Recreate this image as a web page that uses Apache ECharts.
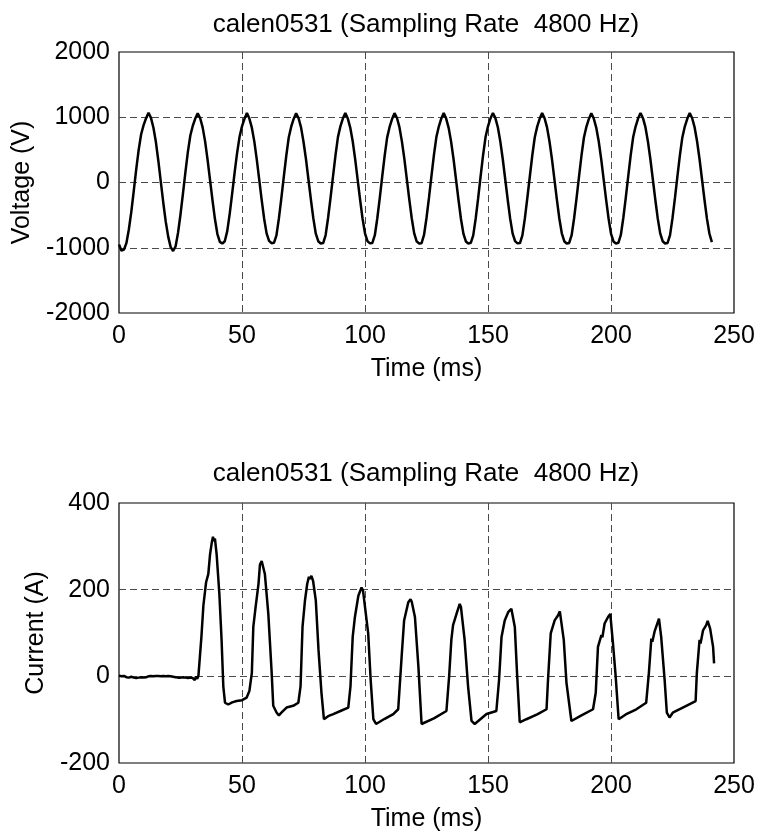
<!DOCTYPE html>
<html>
<head>
<meta charset="utf-8">
<script src="https://cdn.jsdelivr.net/npm/echarts@6/dist/echarts.min.js"></script>
<style>
html,body{margin:0;padding:0;background:#fff;}
#chart{width:760px;height:835px;}
</style>
</head>
<body>
<div id="chart"></div>
<script>
const plotTitle = 'calen0531 (Sampling Rate  4800 Hz)';
const xTicks = [0, 50, 100, 150, 200, 250];
const voltageTicks = [-2000, -1000, 0, 1000, 2000];
const currentTicks = [-200, 0, 200, 400];

const voltageTime = [
  0,1,2,3,4,5,6,7,8,9,
  10,11,12,13,14,15,16,17,18,19,
  20,21,22,23,24,25,26,27,28,29,
  30,31,32,33,34,35,36,37,38,39,
  40,41,42,43,44,45,46,47,48,49,
  50,51,52,53,54,55,56,57,58,59,
  60,61,62,63,64,65,66,67,68,69,
  70,71,72,73,74,75,76,77,78,79,
  80,81,82,83,84,85,86,87,88,89,
  90,91,92,93,94,95,96,97,98,99,
  100,101,102,103,104,105,106,107,108,109,
  110,111,112,113,114,115,116,117,118,119,
  120,121,122,123,124,125,126,127,128,129,
  130,131,132,133,134,135,136,137,138,139,
  140,141,142,143,144,145,146,147,148,149,
  150,151,152,153,154,155,156,157,158,159,
  160,161,162,163,164,165,166,167,168,169,
  170,171,172,173,174,175,176,177,178,179,
  180,181,182,183,184,185,186,187,188,189,
  190,191,192,193,194,195,196,197,198,199,
  200,201,202,203,204,205,206,207,208,209,
  210,211,212,213,214,215,216,217,218,219,
  220,221,222,223,224,225,226,227,228,229,
  230,231,232,233,234,235,236,237,238,239,
  240,241
];
const voltageValue = [
  -950,-1045,-1030,-930,-720,-450,-130,200,500,740,
  880,985,1070,990,840,620,330,10,-310,-600,
  -830,-990,-1050,-980,-770,-490,-170,160,470,720,
  870,980,1062,985,845,630,350,40,-270,-560,
  -790,-910,-935,-900,-745,-480,-170,150,450,700,
  860,975,1065,
  980,840,630,355,45,-265,-555,-780,-895,-930,-925,-810,-550,-240,90,410,690,855,975,1062,
  985,845,625,360,50,-260,-550,-785,-900,-935,-928,-805,-540,-232,95,415,695,860,980,1066,
  982,842,632,358,48,-262,-552,-778,-898,-932,-926,-808,-548,-238,92,412,688,852,972,1063,
  988,848,630,362,52,-258,-548,-780,-902,-934,-930,-804,-544,-236,94,416,692,858,978,1067,
  980,838,626,356,46,-264,-556,-784,-904,-936,-924,-810,-552,-240,96,418,696,862,982,1064,
  986,846,630,360,50,-260,-550,-780,-898,-932,-928,-806,-546,-234,92,414,690,856,976,1065,
  984,844,628,358,48,-262,-552,-778,-900,-936,-926,-808,-548,-238,90,412,690,854,974,1062,
  980,842,632,362,52,-258,-548,-782,-904,-934,-924,-804,-544,-236,94,416,692,858,980,1066,
  986,848,630,360,50,-260,-550,-780,-900,-935,-927,-807,-547,-237,93,415,691,857,977,1064,
  984,844,628,356,46,-264,-554,-782,-915
];

const currentTime = [
  0,1,2,3,4,5,6,7,8,9,10,11,12,13,14,15,16,17,18,19,20,21,22,23,24,25,26,27,28,29,30,30.8,31.3,31.8,32.3,32.9,
  33.5,34.3,35.4,36.3,37,37.7,38.2,38.6,39,39.7,40.8,41.7,42.4,43.1,44.4,46,47.8,50,51.9,53,54,
  54.6,55.6,56.7,57.3,58,58.4,58.8,59.3,60.7,62,62.7,64.1,65,66,68.1,70.8,72.9,73.8,
  74.6,75.6,76.5,77.2,77.6,78.2,78.9,80,81.1,82.3,83.3,85,87.1,90,93.2,94.1,
  95,95.9,97.3,98.6,99.2,100,101.3,102.3,103.4,104.5,108,111.5,113.5,
  114.9,115.9,117.6,118.5,119,119.5,120.3,121.7,123,123.7,128,133.1,
  134.2,135.1,135.8,137.2,138.5,139,139.6,140.5,141.9,143.3,144.6,149.4,153.4,
  154.5,155.5,156.8,158.2,159.5,160.9,161.8,162.9,165.6,170,173.8,
  174.4,175.5,177.1,178.5,179.2,179.8,180.8,181.9,183.9,188,192.7,
  193.8,194.7,196.1,196.5,197.4,198.8,199.7,200.8,201.9,203.1,206,210.3,214.3,
  215.4,216.4,216.8,217.7,219.5,220.4,221.8,222.7,223.8,225.1,230.6,234.4,
  234.9,236,236.4,237.4,238.7,239.3,239.8,240.3,240.8,241.5,241.9
];
const currentValue = [
  2,0,1,-2,-3,-1,-3,-4,-3,-2,-3,-2,0,1,0,1,1,0,1,0,1,0,-1,-2,-3,-3,-2,-3,-4,-3,-4,-9,0,-6,2,3,
  91,163,217,236,281,308,322,312,318,281,190,84,-23,-61,-65,-60,-57,-55,-49,-34,8,
  114,163,213,258,266,262,270,236,144,15,-68,-84,-90,-84,-72,-68,-61,-23,
  114,175,213,230,225,232,220,175,61,-38,-99,-92,-87,-80,-72,-23,
  91,137,186,205,198,194,99,-8,-99,-110,-98,-87,-76,
  46,129,171,178,172,175,137,23,-110,-114,-97,-80,
  0,84,118,144,167,160,160,84,-23,-103,-110,-87,-80,
  -8,91,129,148,156,114,8,-106,-99,-88,-76,
  -8,99,129,141,150,148,84,-15,-103,-90,-76,
  -38,68,95,90,122,137,144,76,0,-99,-88,-76,-61,
  8,87,80,103,133,91,-8,-84,-95,-84,-68,-57,
  8,84,76,106,118,128,125,110,106,68,30
];

function pairs(xs, ys) { return xs.map(function (x, i) { return [x, ys[i]]; }); }

const FONT = 'Liberation Sans, Arial, Helvetica, sans-serif';
const FS = 25;
const dashStyle = { color: '#4a4a4a', width: 1, type: [7, 4] };
const plainLabel = function (v) { return String(v); };

function xAxisFor(gridIndex) {
  return {
    gridIndex: gridIndex, type: 'value',
    min: xTicks[0], max: xTicks[xTicks.length - 1], interval: xTicks[1] - xTicks[0],
    name: 'Time (ms)', nameLocation: 'middle', nameGap: 44,
    nameTextStyle: { color: '#000', fontFamily: FONT, fontSize: FS },
    axisLine: { show: false }, axisTick: { show: false },
    axisLabel: { color: '#000', fontFamily: FONT, fontSize: FS, margin: 11, formatter: plainLabel },
    splitLine: { show: true, showMinLine: false, showMaxLine: false, lineStyle: dashStyle }
  };
}
function yAxisFor(gridIndex, ticks, name, gap) {
  return {
    gridIndex: gridIndex, type: 'value',
    min: ticks[0], max: ticks[ticks.length - 1], interval: ticks[1] - ticks[0],
    name: name, nameLocation: 'middle', nameGap: gap, nameRotate: 90,
    nameTextStyle: { color: '#000', fontFamily: FONT, fontSize: FS },
    axisLine: { show: false }, axisTick: { show: false },
    axisLabel: { color: '#000', fontFamily: FONT, fontSize: FS, margin: 9, formatter: plainLabel },
    splitLine: { show: true, showMinLine: false, showMaxLine: false, lineStyle: dashStyle }
  };
}

const chart = echarts.init(document.getElementById('chart'), null, { renderer: 'canvas' });
chart.setOption({
  animation: false,
  backgroundColor: '#fff',
  title: [
    { text: plotTitle, left: 426, top: 12, textAlign: 'center', padding: 0,
      textStyle: { color: '#000', fontFamily: FONT, fontSize: 26, fontWeight: 'normal' } },
    { text: plotTitle, left: 426, top: 461, textAlign: 'center', padding: 0,
      textStyle: { color: '#000', fontFamily: FONT, fontSize: 26, fontWeight: 'normal' } }
  ],
  grid: [
    { left: 119, top: 52, width: 615, height: 261, show: true, borderColor: '#000', borderWidth: 1.2,
      backgroundColor: 'transparent', containLabel: false, outerBoundsMode: 'none' },
    { left: 119, top: 503, width: 615, height: 260, show: true, borderColor: '#000', borderWidth: 1.2,
      backgroundColor: 'transparent', containLabel: false, outerBoundsMode: 'none' }
  ],
  xAxis: [xAxisFor(0), xAxisFor(1)],
  yAxis: [
    yAxisFor(0, voltageTicks, 'Voltage (V)', 84),
    yAxisFor(1, currentTicks, 'Current (A)', 66)
  ],
  series: [
    { type: 'line', xAxisIndex: 0, yAxisIndex: 0, data: pairs(voltageTime, voltageValue),
      showSymbol: false, symbol: 'none', lineStyle: { color: '#000', width: 2.5 }, z: 5 },
    { type: 'line', xAxisIndex: 1, yAxisIndex: 1, data: pairs(currentTime, currentValue),
      showSymbol: false, symbol: 'none', lineStyle: { color: '#000', width: 2.5 }, z: 5 }
  ]
});
</script>
</body>
</html>
